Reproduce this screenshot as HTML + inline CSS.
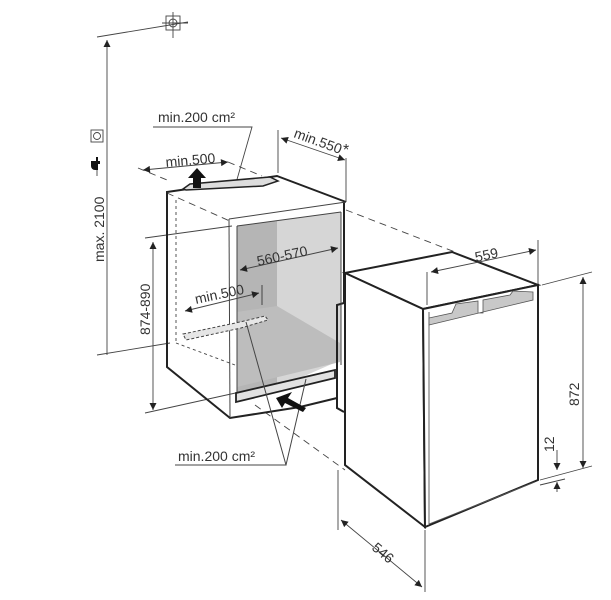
<!DOCTYPE html>
<html><head><meta charset="utf-8"><style>
html,body{margin:0;padding:0;background:#fff;}
svg{display:block;}
text{font-family:"Liberation Sans",sans-serif;font-size:14px;fill:#333;}
</style></head><body>
<svg width="611" height="600" viewBox="0 0 611 600" xmlns="http://www.w3.org/2000/svg">
<defs>
<marker id="a" viewBox="0 0 10 10" refX="10" refY="5" markerWidth="9" markerHeight="7" orient="auto-start-reverse" markerUnits="userSpaceOnUse"><path d="M0,0 L10,5 L0,10 z" fill="#222"/></marker>
</defs>
<g stroke="#444" stroke-width="0.9" fill="none">
<line x1="97" y1="37" x2="188" y2="22"/>
<rect x="166" y="16" width="14" height="14"/>
<circle cx="173" cy="23" r="4"/>
<line x1="173" y1="12" x2="173" y2="38"/><line x1="162" y1="23" x2="188" y2="23"/>
<line x1="107" y1="40" x2="107" y2="355" marker-start="url(#a)"/>
<line x1="97" y1="355" x2="170" y2="343"/>
<rect x="91" y="130" width="12" height="12"/>
<circle cx="97" cy="136" r="3.5"/>
<line x1="97" y1="168" x2="97" y2="176"/>
<line x1="153" y1="242" x2="153" y2="410" marker-start="url(#a)" marker-end="url(#a)"/>
<line x1="145" y1="238" x2="232" y2="226"/>
<line x1="145" y1="413" x2="240" y2="392"/>
<polyline points="153,127 252,127 236,183"/>
<line x1="278" y1="130" x2="278" y2="173"/>
<line x1="346" y1="158" x2="346" y2="202"/>
<line x1="281" y1="138" x2="345" y2="160" marker-start="url(#a)" marker-end="url(#a)"/>
<line x1="143" y1="170" x2="228" y2="162" marker-start="url(#a)" marker-end="url(#a)"/>
<g stroke-dasharray="7,5">
<line x1="138" y1="168" x2="167" y2="180"/>
<line x1="228" y1="162" x2="262" y2="176"/>
<line x1="167" y1="193" x2="232" y2="222"/>
<line x1="346" y1="210" x2="455" y2="252"/>
<line x1="280" y1="238" x2="345" y2="268"/>
<line x1="255" y1="405" x2="345" y2="470"/>
<line x1="176" y1="200" x2="176" y2="343" stroke-dasharray="3,3"/>
<line x1="176" y1="343" x2="235" y2="365" stroke-dasharray="3,3"/>
</g>
</g>
<path d="M91,161 h5 v-4 h2 v4 h2 v3 h-2 v6 h-3 a4,4 0 0 1 -4,-4 z" fill="#111"/>
<polygon points="237,226 277,221 277,388 237,392" fill="#b5b5b5"/>
<polygon points="277,221 341,212 341,360 277,388" fill="#d6d6d6"/>
<polygon points="237,312 277,306 340,343 340,362 237,387" fill="#bdbdbd"/>
<g stroke="#222" stroke-width="2" fill="none">
<polyline points="344,202 344,303 337,305 337,408 344,412"/>
<polyline points="346,202 277,176 167,192 167,367 230,418 300,407 337,398"/>
<polygon points="183,189 190,184 270,177 278,181 263,186 186,190" stroke-width="1.5" fill="#ddd"/>
<polygon points="236,393 335,370 335,378 236,402" stroke-width="1.8" fill="#e2e2e2"/>
</g>
<g stroke="#444" stroke-width="1" fill="none">
<polyline points="229,219 346,202"/>
<line x1="229" y1="219" x2="230" y2="418"/>
<line x1="237" y1="226" x2="341" y2="212"/>
<line x1="341" y1="212" x2="341" y2="365"/>
<line x1="237" y1="226" x2="237" y2="392"/>
<line x1="240" y1="270" x2="338" y2="248" marker-start="url(#a)" marker-end="url(#a)"/>
<line x1="185" y1="311" x2="259" y2="293" marker-start="url(#a)" marker-end="url(#a)"/>
<line x1="262" y1="285" x2="262" y2="305"/>
<polygon points="183,334 240,322 265,316 268,320 241,328 186,340" stroke-dasharray="3,2" fill="#e6e6e6"/>
<polyline points="175,465 286,465 246,322"/>
<line x1="286" y1="465" x2="306" y2="379"/>
</g>
<polygon points="193,188 201,188 201,178 206,178 197,168 188,178 193,178" fill="#111"/>
<polygon points="276,398 292,392 288,398 306,408 303,412 285,403 282,408" fill="#111"/>
<g stroke="#222" stroke-width="2" fill="#fff">
<polygon points="345,273 452,252 538,285 423,309"/>
<polygon points="345,273 423,309 425,527 345,465"/>
<polygon points="423,309 538,285 538,480 425,527"/>
</g>
<g stroke="#555" stroke-width="0.9" fill="none">
<line x1="429" y1="312" x2="429" y2="524"/>
<line x1="429" y1="524" x2="535" y2="482"/>
</g>
<polygon points="429,318 452,313 456,304 478,301 478,313 483,313 483,300 510,295 513,291 533,292 533,300 429,325" fill="#c8c8c8" stroke="#555" stroke-width="0.8"/>
<g stroke="#444" stroke-width="0.9" fill="none">
<line x1="427" y1="272" x2="427" y2="305"/>
<line x1="538" y1="240" x2="538" y2="284"/>
<line x1="431" y1="272" x2="536" y2="250" marker-start="url(#a)" marker-end="url(#a)"/>
<line x1="542" y1="285" x2="592" y2="272"/>
<line x1="540" y1="480" x2="592" y2="466"/>
<line x1="583" y1="277" x2="583" y2="468" marker-start="url(#a)" marker-end="url(#a)"/>
<line x1="540" y1="485" x2="565" y2="479"/>
<line x1="557" y1="450" x2="557" y2="470" marker-end="url(#a)"/>
<line x1="557" y1="492" x2="557" y2="482" marker-end="url(#a)"/>
<line x1="338" y1="470" x2="338" y2="530"/>
<line x1="425" y1="530" x2="425" y2="592"/>
<line x1="341" y1="520" x2="422" y2="587" marker-start="url(#a)" marker-end="url(#a)"/>
</g>
<text x="158" y="122">min.200 cm²</text>
<text x="0" y="0" transform="translate(293,137) rotate(20)">min.550</text>
<text x="343" y="155" style="font-size:16px">*</text>
<text x="0" y="0" transform="translate(166,167) rotate(-5)">min.500</text>
<text x="0" y="0" transform="translate(258,266) rotate(-12)">560-570</text>
<text x="0" y="0" transform="translate(196,304) rotate(-12)">min.500</text>
<text x="178" y="461">min.200 cm²</text>
<text x="0" y="0" transform="translate(104,262) rotate(-90)">max. 2100</text>
<text x="0" y="0" transform="translate(150,335) rotate(-90)">874-890</text>
<text x="0" y="0" transform="translate(476,262) rotate(-12)">559</text>
<text x="0" y="0" transform="translate(579,406) rotate(-90)">872</text>
<text x="0" y="0" transform="translate(554,452) rotate(-90)">12</text>
<text x="0" y="0" transform="translate(371,549) rotate(40)">546</text>
</svg>
</body></html>
